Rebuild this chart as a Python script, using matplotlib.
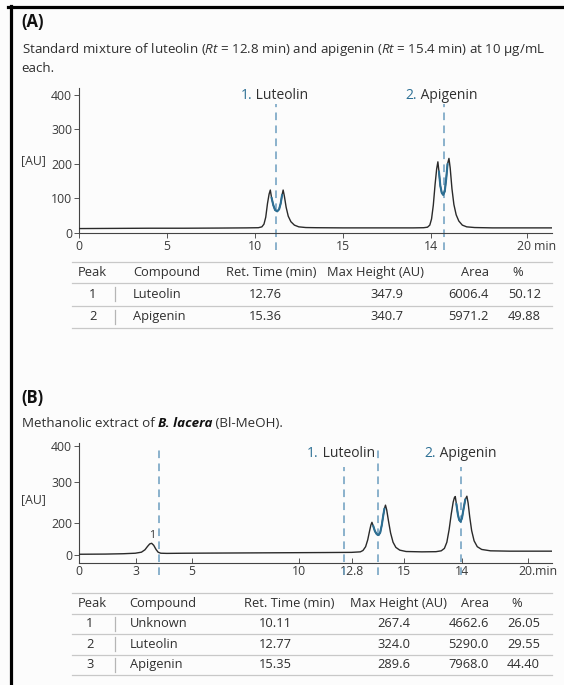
import matplotlib.pyplot as plt
from matplotlib.lines import Line2D
from matplotlib.transforms import ScaledTranslation

plt.rcParams['font.family'] = ['Open Sans', 'Noto Sans', 'DejaVu Sans']
plt.rcParams['mathtext.fontset'] = 'custom'
plt.rcParams['mathtext.rm'] = 'Open Sans'
plt.rcParams['mathtext.it'] = 'Open Sans:italic'

# ---- data (x in drawn time units, y in AU) ----
a_trace = [(0, 12), (2, 12.5), (4, 13), (6, 13), (8, 13.5), (9.5, 14), (10.2, 14.5),
           (10.4, 17), (10.52, 25), (10.62, 45), (10.72, 85), (10.81, 112), (10.88, 124),
           (10.95, 102), (11.05, 80), (11.15, 66), (11.27, 62), (11.38, 68), (11.47, 85),
           (11.55, 110), (11.61, 124), (11.68, 106), (11.78, 74), (11.9, 48), (12.05, 32),
           (12.25, 22), (12.5, 17), (12.9, 15), (13.5, 14.5), (15, 14), (17, 14), (19, 14),
           (19.6, 14.5), (19.82, 16), (19.95, 22), (20.05, 40), (20.15, 80), (20.25, 140),
           (20.34, 185), (20.41, 206), (20.47, 178), (20.55, 136), (20.63, 116), (20.71, 110),
           (20.8, 120), (20.88, 155), (20.96, 200), (21.04, 216), (21.11, 188), (21.21, 128),
           (21.32, 82), (21.45, 52), (21.6, 34), (21.8, 22), (22.05, 17), (22.5, 15),
           (23.5, 14), (25, 14), (26.9, 14)]
a_dips = [(10.9, 11.6), (20.43, 21.02)]
a_markers = [11.19, 20.74]
a_marker_names = ['Luteolin', 'Apigenin']
a_xticks = [0, 5, 10, 15, 20, 25.5]
a_xlabels = ['0', '5', '10', '15', '14', '20 min']
a_yticks = [0, 100, 200, 300, 400]
a_ylabels = ['0', '100', '200', '300', '400']

b_trace = [(0, 3), (1.5, 3.5), (2.5, 4.5), (3.2, 6), (3.55, 9), (3.75, 16), (3.9, 26),
           (4.02, 33), (4.13, 35), (4.25, 29), (4.38, 17), (4.5, 9), (4.65, 6), (5, 5.5),
           (6, 6), (8, 6.5), (10, 7), (12, 7.5), (14, 8), (15.5, 8.5), (16.0, 10),
           (16.15, 14), (16.3, 25), (16.42, 45), (16.53, 72), (16.6, 88), (16.66, 96),
           (16.73, 86), (16.83, 70), (16.94, 61), (17.04, 59), (17.13, 66), (17.22, 88),
           (17.3, 115), (17.37, 136), (17.43, 146), (17.5, 132), (17.6, 100), (17.72, 65),
           (17.86, 38), (18.02, 23), (18.24, 15), (18.6, 11), (19.5, 10), (20.3, 10.5),
           (20.6, 13), (20.78, 20), (20.92, 38), (21.05, 75), (21.17, 120), (21.28, 155),
           (21.35, 168), (21.4, 171), (21.46, 150), (21.55, 118), (21.62, 103), (21.7, 98),
           (21.78, 108), (21.88, 138), (21.97, 163), (22.06, 172), (22.13, 152),
           (22.22, 112), (22.33, 72), (22.47, 42), (22.65, 25), (22.9, 17), (23.4, 13),
           (24.5, 12), (26.9, 12)]
b_dips = [(16.7, 17.4), (21.43, 22.03)]
b_markers = [4.57, 15.06, 17.01, 21.7]
b_marker_tops = [315, 257, 315, 257]
b_xticks = [0, 3.24, 6.4, 12.53, 15.54, 18.5, 21.76, 25.56]
b_xlabels = ['0', '3', '5', '10', '12.8', '15', '14', '20.min']
b_yticks = [0, 94.8, 214, 317.7]
b_ylabels = ['0', '200', '300', '400']

headers = ['Peak', 'Compound', 'Ret. Time (min)', 'Max Height (AU)', 'Area', '%']
a_peaks = ['1', '2']
a_compounds = ['Luteolin', 'Apigenin']
a_rt = ['12.76', '15.36']
a_height = ['347.9', '340.7']
a_area = ['6006.4', '5971.2']
a_pct = ['50.12', '49.88']

b_peaks = ['1', '2', '3']
b_compounds = ['Unknown', 'Luteolin', 'Apigenin']
b_rt = ['10.11', '12.77', '15.35']
b_height = ['267.4', '324.0', '289.6']
b_area = ['4662.6', '5290.0', '7968.0']
b_pct = ['26.05', '29.55', '44.40']

W, H = 564, 685
DARK = '#2a2a2a'
TXT = '#2f2f2f'
BLUE = '#2c6f94'
DASH = '#6c9ebf'
RULE = '#c8c8c8'
FS = 9.3
SUB = 9.6


def fx(x):
    return x / W


def fy(y):
    return 1 - y / H


fig = plt.figure(figsize=(W / 100, H / 100), dpi=100, facecolor='#fcfcfc')

# frame lines on top / left
fig.add_artist(Line2D([fx(8), 1], [fy(6.5), fy(6.5)], color='black', lw=2.3))
fig.add_artist(Line2D([fx(10.5), fx(10.5)], [fy(5.5), 0], color='black', lw=2.3))


def chromatogram(rect, trace, dips, ylim, xticks, xlabels, yticks, ylabels, tickdir):
    ax = fig.add_axes(rect)
    ax.set_facecolor('none')
    t = [p[0] for p in trace]
    s = [p[1] for p in trace]
    ax.plot(t, s, color=DARK, lw=1.0, zorder=3)
    # the dip between the split peaks is drawn in blue
    for lo, hi in dips:
        seg = [(a, b) for a, b in trace if lo < a < hi]
        ax.plot([p[0] for p in seg], [p[1] for p in seg], color=BLUE, lw=1.5,
                solid_capstyle='round', zorder=4)
    ax.set_xlim(0, 26.9)
    ax.set_ylim(*ylim)
    for side in ['top', 'right']:
        ax.spines[side].set_visible(False)
    for side in ['left', 'bottom']:
        ax.spines[side].set_color('#444444')
        ax.spines[side].set_linewidth(0.8)
    ax.set_xticks(xticks)
    ax.set_xticklabels(xlabels)
    ax.set_yticks(yticks)
    ax.set_yticklabels(ylabels)
    ax.tick_params(axis='x', direction=tickdir, length=3.5, width=0.7, color='#555555',
                   labelsize=8.8, labelcolor='#3a3a3a', pad=2)
    ax.tick_params(axis='y', direction='out', length=3.5, width=0.7, color='#555555',
                   labelsize=8.8, labelcolor='#3a3a3a', pad=1.5)
    # "20 min": the number sits on the tick, the unit runs on to the right
    last = ax.get_xticklabels()[-1]
    last.set_ha('left')
    last.set_transform(last.get_transform() + ScaledTranslation(-10 / 100, 0, fig.dpi_scale_trans))
    return ax


def peak_label(ax, x, y, num, name):
    t1 = ax.text(x, y, num, color=BLUE, fontsize=10, ha='left', va='center')
    ax.annotate(' ' + name, xy=(1, 0), xycoords=t1, color=TXT, fontsize=10,
                ha='left', va='bottom')


def table(top, head_h, row_h, head_pos, cols, col_pos):
    left, right = 72, 552
    nrows = len(cols[0])
    lines = [top, top + head_h] + [top + head_h + row_h * (i + 1) for i in range(nrows)]
    for y in lines:
        fig.add_artist(Line2D([fx(left), fx(right)], [fy(y), fy(y)], color=RULE, lw=0.9))
    hy = top + head_h / 2
    for txt, (x, ha) in zip(headers, head_pos):
        fig.text(fx(x), fy(hy), txt, ha=ha, va='center', fontsize=FS, color=TXT)
    for r in range(nrows):
        ry = top + head_h + row_h * (r + 0.5)
        for col, (x, ha) in zip(cols, col_pos):
            fig.text(fx(x), fy(ry), col[r], ha=ha, va='center', fontsize=FS, color=TXT)
        fig.add_artist(Line2D([fx(114.5), fx(114.5)], [fy(ry - 7), fy(ry + 7)],
                              color='#b5b5b5', lw=0.9))


# ---------------- panel A ----------------
fig.text(fx(21), fy(22), '(A)', fontsize=12, fontweight='bold', color='#111111', va='center')
fig.text(fx(21.5), fy(49), 'Standard mixture of luteolin ($Rt$ = 12.8 min) and apigenin '
         '($Rt$ = 15.4 min) at 10 μg/mL', fontsize=SUB, color=TXT, va='center')
fig.text(fx(21.5), fy(69), 'each.', fontsize=SUB, color=TXT, va='center')
fig.text(fx(21.5), fy(161), '[AU]', fontsize=8.8, color='#3a3a3a', va='center')

ax_a = chromatogram([fx(79), fy(232.7), 473 / W, 144.5 / H], a_trace, a_dips, (0, 420),
                    a_xticks, a_xlabels, a_yticks, a_ylabels, 'out')
for x in a_markers:
    ax_a.plot([x, x], [-50, 374], color=DASH, lw=1.1, ls=(0, (5, 3.5)), clip_on=False, zorder=2)
peak_label(ax_a, 9.2, 400, '1.', a_marker_names[0])
peak_label(ax_a, 18.57, 400, '2.', a_marker_names[1])

table(262, 21, 22.5,
      [(78, 'left'), (133, 'left'), (226.5, 'left'), (327, 'left'), (489, 'right'), (512, 'left')],
      [a_peaks, a_compounds, a_rt, a_height, a_area, a_pct],
      [(93, 'center'), (133, 'left'), (249, 'left'), (370.5, 'left'), (489, 'right'), (508, 'left')])

# ---------------- panel B ----------------
fig.text(fx(21), fy(398), '(B)', fontsize=12, fontweight='bold', color='#111111', va='center')
s1 = fig.text(fx(21.5), fy(423), 'Methanolic extract of ', fontsize=SUB, color=TXT, va='center')
s2 = plt.annotate('B. lacera', xy=(1, 0), xycoords=s1, fontsize=SUB, color='#111111',
                  fontweight='bold', fontstyle='italic', va='bottom', ha='left',
                  annotation_clip=False)
plt.annotate(' (Bl-MeOH).', xy=(1, 0), xycoords=s2, fontsize=SUB, color=TXT,
             va='bottom', ha='left', annotation_clip=False)
fig.text(fx(21.5), fy(500), '[AU]', fontsize=8.8, color='#3a3a3a', va='center')

ax_b = chromatogram([fx(79), fy(562.5), 473 / W, 119.2 / H], b_trace, b_dips, (-21, 326),
                    b_xticks, b_xlabels, b_yticks, b_ylabels, 'in')
for x, top in zip(b_markers, b_marker_tops):
    ax_b.plot([x, x], [-57, top], color=DASH, lw=1.1, ls=(0, (5, 3.5)), clip_on=False, zorder=2)
peak_label(ax_b, 12.98, 296.5, '1.', 'Luteolin')
peak_label(ax_b, 19.63, 296.5, '2.', 'Apigenin')
ax_b.text(4.15, 59, '1', fontsize=7.5, color=TXT, ha='center', va='center')

table(593, 20.5, 20.5,
      [(78, 'left'), (129.5, 'left'), (244.5, 'left'), (350.5, 'left'), (489, 'right'), (511, 'left')],
      [b_peaks, b_compounds, b_rt, b_height, b_area, b_pct],
      [(90, 'center'), (129.5, 'left'), (259, 'left'), (377.5, 'left'), (489, 'right'), (507, 'left')])

fig.savefig('out.png', dpi=100, facecolor=fig.get_facecolor())
